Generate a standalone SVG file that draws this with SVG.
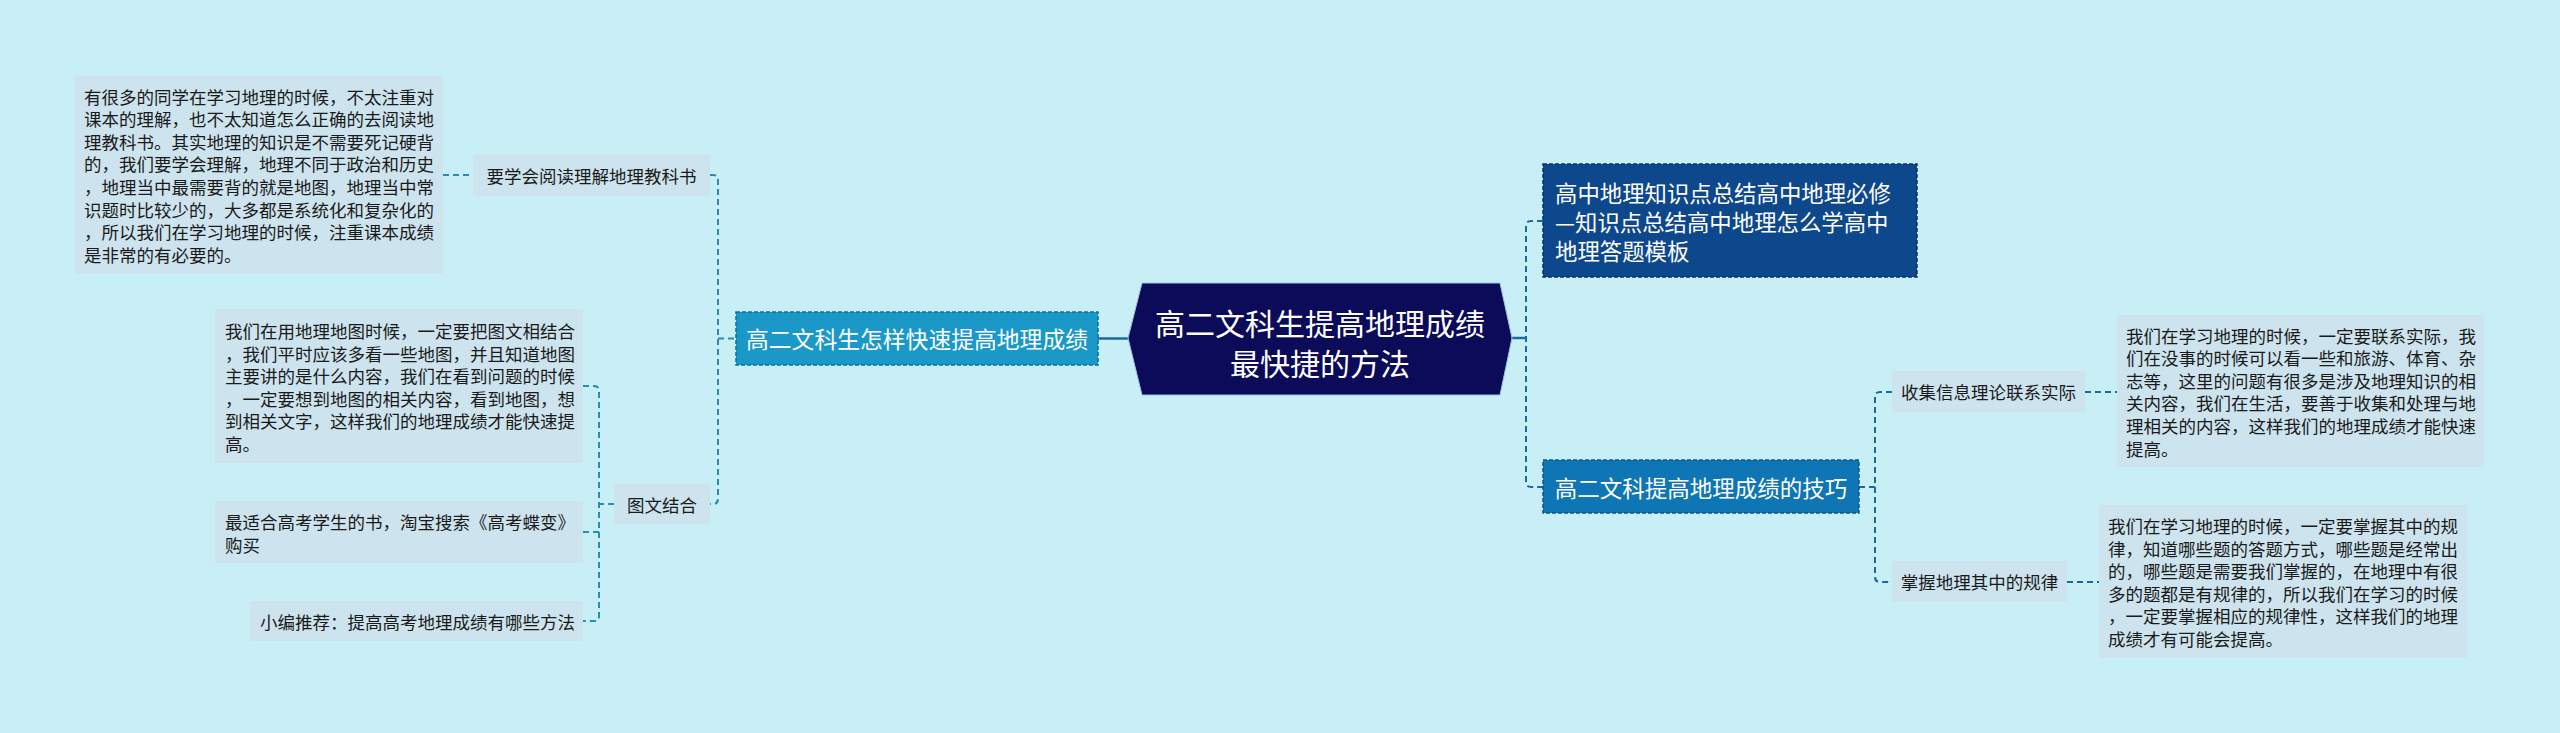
<svg xmlns="http://www.w3.org/2000/svg" width="2560" height="733" viewBox="0 0 2560 733">
<style>
.t{font-family:"Noto Sans CJK SC","Noto Sans",sans-serif;font-size:17.5px;fill:#1a1a1a;dominant-baseline:central}
.w{font-family:"Noto Sans CJK SC","Noto Sans",sans-serif;fill:#ffffff;dominant-baseline:central}
.box{fill:#cde4ee}
.cl{fill:none;stroke:#2a8db0;stroke-width:2;stroke-dasharray:6 4}
.cr{fill:none;stroke:#1a6a9e;stroke-width:2;stroke-dasharray:6 4}
.cs{fill:none;stroke:#1a6a9e;stroke-width:2.5}
</style>
<rect x="0" y="0" width="2560" height="733" fill="#c8eef6"/>
<g id="connectors">
<path class="cs" d="M1098,338.5 H1128"/>
<path class="cs" d="M1512,338 H1526"/>
<path class="cl" d="M443,175 H473"/>
<path class="cl" d="M710,175 H713 Q718,175 718,180 V499 Q718,504 713,504 H710"/>
<path class="cl" d="M718,338.5 H736"/>
<path class="cl" d="M614,504 H599"/>
<path class="cl" d="M583,386 H594 Q599,386 599,391 V616 Q599,621 594,621 H583"/>
<path class="cl" d="M599,532 H583"/>
<path class="cr" d="M1543,221 H1531 Q1526,221 1526,226 V482 Q1526,487 1531,487 H1543"/>
<path class="cr" d="M1859,487 H1875"/>
<path class="cr" d="M1892,392 H1880 Q1875,392 1875,397 V577 Q1875,582 1880,582 H1892"/>
<path class="cr" d="M2085,392 H2117"/>
<path class="cr" d="M2067,582 H2099"/>
</g>
<g id="center">
<polygon points="1128,338 1142,283 1500,283 1512,338 1500,395 1142,395" fill="#0b0b5a" stroke="#9fc4dc" stroke-width="1"/>
<text class="w" x="1320" y="322" font-size="30" text-anchor="middle">高二文科生提高地理成绩</text>
<text class="w" x="1320" y="362" font-size="30" text-anchor="middle">最快捷的方法</text>
</g>
<g id="left-main">
<rect x="736" y="312" width="362" height="53" fill="#1a99c9" stroke="#0d6e9c" stroke-width="1.5" stroke-dasharray="4 2"/>
<text class="w" x="917" y="338.5" font-size="22.8" text-anchor="middle">高二文科生怎样快速提高地理成绩</text>
</g>
<g id="label-read">
<rect class="box" x="473" y="154.5" width="237" height="41"/>
<text class="t" x="591.5" y="175" text-anchor="middle">要学会阅读理解地理教科书</text>
</g>
<g id="text-read">
<rect class="box" x="75" y="76" width="368" height="198"/>
<text class="t" x="84" y="96">有很多的同学在学习地理的时候，不太注重对</text>
<text class="t" x="84" y="118.6">课本的理解，也不太知道怎么正确的去阅读地</text>
<text class="t" x="84" y="141.2">理教科书。其实地理的知识是不需要死记硬背</text>
<text class="t" x="84" y="163.8">的，我们要学会理解，地理不同于政治和历史</text>
<text class="t" x="84" y="186.4">，地理当中最需要背的就是地图，地理当中常</text>
<text class="t" x="84" y="209">识题时比较少的，大多都是系统化和复杂化的</text>
<text class="t" x="84" y="231.6">，所以我们在学习地理的时候，注重课本成绩</text>
<text class="t" x="84" y="254.2">是非常的有必要的。</text>
</g>
<g id="label-tuwen">
<rect class="box" x="614" y="483.5" width="96" height="41"/>
<text class="t" x="662" y="504" text-anchor="middle">图文结合</text>
</g>
<g id="text-map">
<rect class="box" x="215" y="309" width="368" height="154"/>
<text class="t" x="225" y="330.5">我们在用地理地图时候，一定要把图文相结合</text>
<text class="t" x="225" y="353.1">，我们平时应该多看一些地图，并且知道地图</text>
<text class="t" x="225" y="375.7">主要讲的是什么内容，我们在看到问题的时候</text>
<text class="t" x="225" y="398.3">，一定要想到地图的相关内容，看到地图，想</text>
<text class="t" x="225" y="420.9">到相关文字，这样我们的地理成绩才能快速提</text>
<text class="t" x="225" y="443.5">高。</text>
</g>
<g id="text-book">
<rect class="box" x="215" y="501" width="368" height="62"/>
<text class="t" x="225" y="521.5">最适合高考学生的书，淘宝搜索《高考蝶变》</text>
<text class="t" x="225" y="544">购买</text>
</g>
<g id="text-recommend">
<rect class="box" x="250" y="601" width="333" height="40"/>
<text class="t" x="260" y="621">小编推荐：提高高考地理成绩有哪些方法</text>
</g>
<g id="top-right">
<rect x="1543" y="164" width="374" height="113" fill="#0e488c" stroke="#0a3468" stroke-width="1.5" stroke-dasharray="4 2"/>
<text class="w" x="1555" y="191.5" font-size="22.4">高中地理知识点总结高中地理必修</text>
<text class="w" x="1555" y="220.5" font-size="22.4">—知识点总结高中地理怎么学高中</text>
<text class="w" x="1555" y="249.5" font-size="22.4">地理答题模板</text>
</g>
<g id="right-main">
<rect x="1543" y="460" width="316" height="53" fill="#0e76b4" stroke="#0a5a8c" stroke-width="1.5" stroke-dasharray="4 2"/>
<text class="w" x="1701" y="487" font-size="22.5" text-anchor="middle">高二文科提高地理成绩的技巧</text>
</g>
<g id="label-collect">
<rect class="box" x="1892" y="371" width="193" height="41"/>
<text class="t" x="1988.5" y="391.5" text-anchor="middle">收集信息理论联系实际</text>
</g>
<g id="text-collect">
<rect class="box" x="2117" y="315" width="367" height="152"/>
<text class="t" x="2126" y="335">我们在学习地理的时候，一定要联系实际，我</text>
<text class="t" x="2126" y="357.6">们在没事的时候可以看一些和旅游、体育、杂</text>
<text class="t" x="2126" y="380.2">志等，这里的问题有很多是涉及地理知识的相</text>
<text class="t" x="2126" y="402.8">关内容，我们在生活，要善于收集和处理与地</text>
<text class="t" x="2126" y="425.4">理相关的内容，这样我们的地理成绩才能快速</text>
<text class="t" x="2126" y="448">提高。</text>
</g>
<g id="label-rule">
<rect class="box" x="1892" y="561" width="175" height="41"/>
<text class="t" x="1979.5" y="581.5" text-anchor="middle">掌握地理其中的规律</text>
</g>
<g id="text-rule">
<rect class="box" x="2099" y="505" width="368" height="153"/>
<text class="t" x="2108" y="525.5">我们在学习地理的时候，一定要掌握其中的规</text>
<text class="t" x="2108" y="548.1">律，知道哪些题的答题方式，哪些题是经常出</text>
<text class="t" x="2108" y="570.7">的，哪些题是需要我们掌握的，在地理中有很</text>
<text class="t" x="2108" y="593.3">多的题都是有规律的，所以我们在学习的时候</text>
<text class="t" x="2108" y="615.9">，一定要掌握相应的规律性，这样我们的地理</text>
<text class="t" x="2108" y="638.5">成绩才有可能会提高。</text>
</g>
</svg>
